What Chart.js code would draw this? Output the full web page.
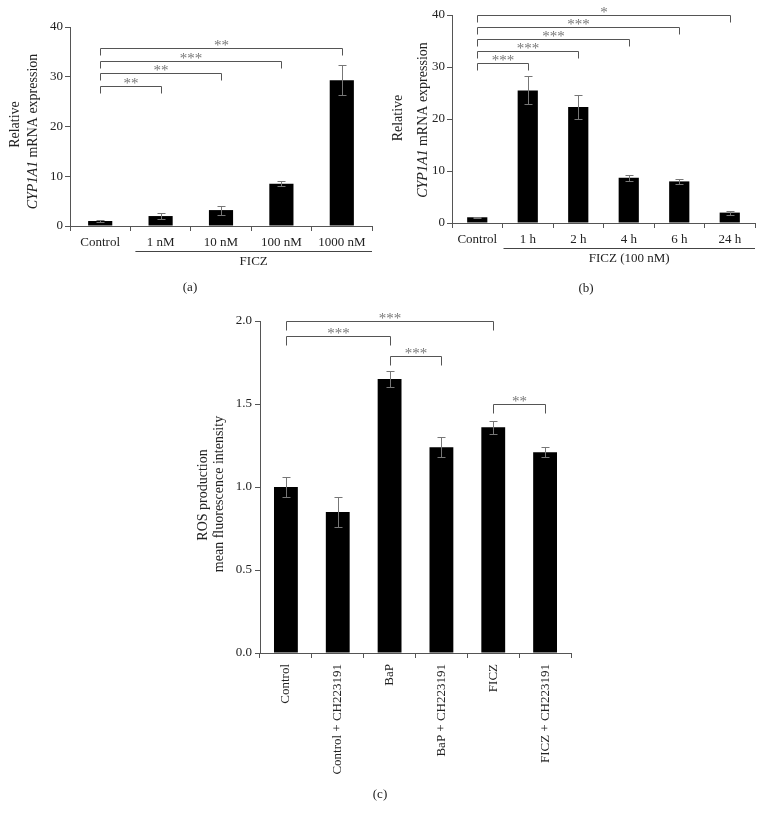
<!DOCTYPE html>
<html><head><meta charset="utf-8">
<script src="https://cdn.jsdelivr.net/npm/chart.js@4/dist/chart.umd.min.js"></script>
<style>
html,body{margin:0;padding:0;background:#fff;width:764px;height:822px;overflow:hidden;position:relative}
canvas{position:absolute}
</style></head><body>
<canvas id="ca" width="380" height="300" style="left:0;top:0;width:380px;height:300px"></canvas>
<canvas id="cb" width="384" height="300" style="left:380px;top:0;width:384px;height:300px"></canvas>
<canvas id="cc" width="420" height="522" style="left:180px;top:300px;width:420px;height:522px"></canvas>
<script>
// ---------- data ----------
const categoriesA = ["Control", "1 nM", "10 nM", "100 nM", "1000 nM"];
const valuesA = [1.0, 2.0, 3.2, 8.5, 29.3];
const errorsA = [0.2, 0.6, 0.9, 0.5, 3.0];
const yTicksA = [0, 10, 20, 30, 40];
const bracketsA = [[0, 1, 28.2, "**"], [0, 2, 30.8, "**"], [0, 3, 33.2, "***"], [0, 4, 35.8, "**"]];
const groupLabelA = "FICZ";
const panelLabelA = "(a)";
const yTitleA = ["Relative", "CYP1A1 mRNA expression"];

const categoriesB = ["Control", "1 h", "2 h", "4 h", "6 h", "24 h"];
const valuesB = [1.1, 25.5, 22.3, 8.7, 8.0, 2.0];
const errorsB = [0.15, 2.7, 2.3, 0.6, 0.5, 0.4];
const yTicksB = [0, 10, 20, 30, 40];
const bracketsB = [[0, 1, 30.7, "***"], [0, 2, 33.0, "***"], [0, 3, 35.4, "***"], [0, 4, 37.7, "***"], [0, 5, 40.0, "*"]];
const groupLabelB = "FICZ (100 nM)";
const panelLabelB = "(b)";
const yTitleB = ["Relative", "CYP1A1 mRNA expression"];

const categoriesC = ["Control", "Control + CH223191", "BaP", "BaP + CH223191", "FICZ", "FICZ + CH223191"];
const valuesC = [1.0, 0.85, 1.65, 1.24, 1.36, 1.21];
const errorsC = [0.06, 0.09, 0.05, 0.06, 0.04, 0.03];
const yTicksC = [0, 0.5, 1.0, 1.5, 2.0];
const bracketsC = [[0, 4, 2.0, "***"], [0, 2, 1.91, "***"], [2, 3, 1.79, "***"], [4, 5, 1.497, "**"]];
const panelLabelC = "(c)";
const yTitleC = ["ROS production", "mean fluorescence intensity"];
const italicWord = "CYP1A1";

// ---------- drawing ----------
const FONT = "Liberation Serif";
Chart.defaults.font.family = FONT;
Chart.defaults.font.size = 13;
Chart.defaults.color = "#222";

function segs(text) {
  const i = text.indexOf(italicWord);
  if (i < 0) return [{t: text, it: false}];
  return [{t: text.slice(0, i), it: false}, {t: italicWord, it: true}, {t: text.slice(i + italicWord.length), it: false}].filter(s => s.t);
}

function annot(cfg) {
  return {
    id: "annot_" + cfg.id,
    afterDatasetsDraw(chart) {
      const ctx = chart.ctx, xs = chart.scales.x, ys = chart.scales.y, ca = chart.chartArea;
      ctx.save();
      // error bars
      ctx.strokeStyle = "#777"; ctx.lineWidth = 1;
      cfg.values.forEach((v, i) => {
        const px = Math.round(xs.getPixelForValue(i)) + 0.5;
        const yt = Math.round(ys.getPixelForValue(v + cfg.errors[i])) + 0.5;
        const yb = Math.round(ys.getPixelForValue(v - cfg.errors[i])) + 0.5;
        ctx.beginPath();
        ctx.moveTo(px, yt); ctx.lineTo(px, yb);
        ctx.moveTo(px - cfg.cap, yt); ctx.lineTo(px + cfg.cap, yt);
        ctx.moveTo(px - cfg.cap, yb); ctx.lineTo(px + cfg.cap, yb);
        ctx.stroke();
      });
      // brackets
      ctx.strokeStyle = "#555";
      ctx.font = "15px " + FONT;
      ctx.textAlign = "center"; ctx.textBaseline = "alphabetic";
      cfg.brackets.forEach(([a, b, lvl, lab]) => {
        const x1 = Math.round(xs.getPixelForValue(a)) + 0.5, x2 = Math.round(xs.getPixelForValue(b)) + 0.5;
        const yy = Math.round(ys.getPixelForValue(lvl)) + 0.5;
        ctx.beginPath();
        ctx.moveTo(x1, yy + cfg.drop); ctx.lineTo(x1, yy); ctx.lineTo(x2, yy); ctx.lineTo(x2, yy + cfg.drop);
        ctx.stroke();
        ctx.fillStyle = "#777";
        ctx.fillText(lab, (x1 + x2) / 2, yy + 1.5);
      });
      ctx.fillStyle = "#222";
      ctx.font = "13px " + FONT;
      // group line + label
      if (cfg.group) {
        const gx1 = xs.getPixelForValue(0.5) + cfg.groupInset;
        const gy = Math.round(ca.bottom + 25) + 0.5;
        ctx.strokeStyle = "#444";
        ctx.beginPath(); ctx.moveTo(gx1, gy); ctx.lineTo(ca.right, gy); ctx.stroke();
        ctx.textBaseline = "middle";
        ctx.fillText(cfg.group, (gx1 + ca.right) / 2, ca.bottom + 36);
      }
      // panel label
      ctx.textBaseline = "middle";
      ctx.fillText(cfg.panel, ca.left + cfg.panelDx, ca.bottom + cfg.panelDy);
      // y title
      cfg.yTitle.forEach((line, li) => {
        ctx.save();
        ctx.translate(cfg.titleX[li], (ca.top + ca.bottom) / 2 + cfg.titleDy[li]);
        ctx.rotate(-Math.PI / 2);
        const ss = segs(line);
        let total = 0;
        ss.forEach(s => { ctx.font = (s.it ? "italic " : "") + "14px " + FONT; total += ctx.measureText(s.t).width; });
        let x0 = -total / 2;
        ctx.textAlign = "left"; ctx.textBaseline = "middle";
        ss.forEach(s => { ctx.font = (s.it ? "italic " : "") + "14px " + FONT; ctx.fillText(s.t, x0, 0); x0 += ctx.measureText(s.t).width; });
        ctx.restore();
      });
      ctx.restore();
    }
  };
}

function makeChart(cfg) {
  return new Chart(document.getElementById(cfg.id), {
    type: "bar",
    data: {labels: cfg.labels, datasets: [{data: cfg.values, backgroundColor: "#000", borderWidth: 0, barPercentage: cfg.barPct, categoryPercentage: 1}]},
    options: {
      responsive: false, animation: false, events: [],
      layout: {padding: {left: 0, right: cfg.padR, top: cfg.padT, bottom: 0}},
      plugins: {legend: {display: false}, tooltip: {enabled: false}},
      scales: {
        x: {
          grid: {drawOnChartArea: false, tickLength: 5, color: "#555", offset: true},
          border: {color: "#555"},
          ticks: {autoSkip: false, maxRotation: cfg.rot, minRotation: cfg.rot, padding: cfg.xPad, color: "#222"},
          afterFit: s => { s.height = cfg.xH; }
        },
        y: {
          min: cfg.yTicks[0], max: cfg.yTicks[cfg.yTicks.length - 1],
          grid: {drawOnChartArea: false, tickLength: 5, color: "#555"},
          border: {color: "#555"},
          ticks: {padding: cfg.yPad, color: "#222", callback: cfg.fmt},
          afterBuildTicks: s => { s.ticks = cfg.yTicks.map(v => ({value: v})); },
          afterFit: s => { s.width = cfg.yW; }
        }
      }
    },
    plugins: [annot(cfg)]
  });
}

makeChart({id: "ca", labels: categoriesA, values: valuesA, errors: errorsA, yTicks: yTicksA, brackets: bracketsA,
  group: groupLabelA, groupInset: 5, panel: panelLabelA, panelDx: 120, panelDy: 62, yTitle: yTitleA,
  titleX: [15, 33], titleDy: [-2, 5], barPct: 0.4, padR: 8, padT: 27, xH: 74, yW: 70, rot: 0, xPad: 4, yPad: 2,
  cap: 4, drop: 7, fmt: v => String(v)});

makeChart({id: "cb", labels: categoriesB, values: valuesB, errors: errorsB, yTicks: yTicksB, brackets: bracketsB,
  group: groupLabelB, groupInset: 1, panel: panelLabelB, panelDx: 134, panelDy: 66, yTitle: yTitleB,
  titleX: [18, 43], titleDy: [-1, 1], barPct: 0.4, padR: 9, padT: 15, xH: 77, yW: 72, rot: 0, xPad: 4, yPad: 2,
  cap: 4, drop: 7, fmt: v => String(v)});

makeChart({id: "cc", labels: categoriesC, values: valuesC, errors: errorsC, yTicks: yTicksC, brackets: bracketsC,
  group: null, panel: panelLabelC, panelDx: 120, panelDy: 142, yTitle: yTitleC,
  titleX: [23, 39], titleDy: [8, 7], barPct: 0.46, padR: 29, padT: 21, xH: 169, yW: 80, rot: 90, xPad: 6, yPad: 3,
  cap: 4, drop: 9, fmt: v => v.toFixed(1)});
</script>
</body></html>
